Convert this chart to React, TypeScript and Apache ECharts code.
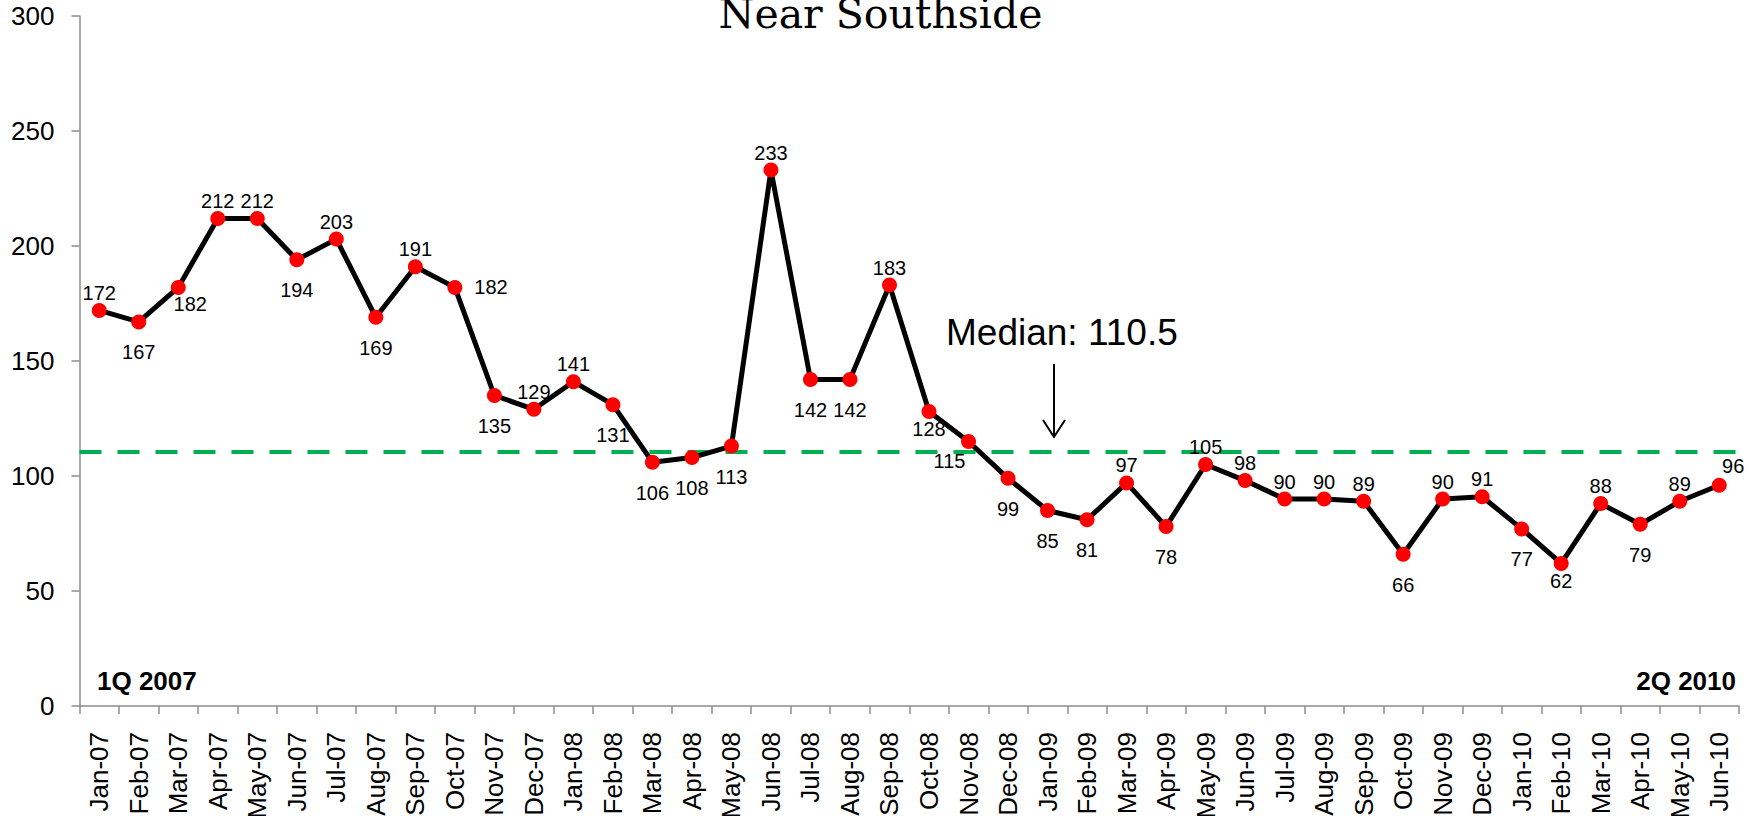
import React, { useEffect, useRef } from "react";
import * as echarts from "echarts";

const months: string[] = [
  "Jan-07", "Feb-07", "Mar-07", "Apr-07", "May-07", "Jun-07", "Jul-07", "Aug-07", "Sep-07", "Oct-07", "Nov-07", "Dec-07",
  "Jan-08", "Feb-08", "Mar-08", "Apr-08", "May-08", "Jun-08", "Jul-08", "Aug-08", "Sep-08", "Oct-08", "Nov-08", "Dec-08",
  "Jan-09", "Feb-09", "Mar-09", "Apr-09", "May-09", "Jun-09", "Jul-09", "Aug-09", "Sep-09", "Oct-09", "Nov-09", "Dec-09",
  "Jan-10", "Feb-10", "Mar-10", "Apr-10", "May-10", "Jun-10",
];

const counts: number[] = [
  172, 167, 182, 212, 212, 194, 203, 169, 191, 182, 135, 129,
  141, 131, 106, 108, 113, 233, 142, 142, 183, 128, 115, 99,
  85, 81, 97, 78, 105, 98, 90, 90, 89, 66, 90, 91,
  77, 62, 88, 79, 89, 96,
];

const median = 110.5;
const yTicks = { min: 0, max: 300, interval: 50 };

const titleText = "Near Southside";
const medianText = "Median: 110.5";
const startText = "1Q 2007";
const endText = "2Q 2010";

// label placement style per point: t = above, b = below, r = right, others custom
const placement: string[] = [
  "t", "b", "br", "t", "t", "b", "t", "b", "t", "r", "b", "t",
  "t", "b", "b", "b", "b", "t", "b", "b", "t", "bc", "bl", "b",
  "b", "b", "t", "b", "t", "t", "t", "t", "t", "b", "t", "t",
  "b", "bc", "t", "b", "t", "tr",
];

const FONT = "'Liberation Sans', Arial, sans-serif";

function labelFor(p: string): any {
  const base = { show: true, color: "#000", fontSize: 20, fontFamily: FONT };
  switch (p) {
    case "t":
      return { ...base, position: "top", distance: 0 };
    case "b":
      return { ...base, position: "bottom", distance: 13 };
    case "br":
      return { ...base, position: "bottom", distance: 13, offset: [12, -14] };
    case "bc":
      return { ...base, position: "bottom", distance: 13, offset: [0, -13] };
    case "bl":
      return { ...base, position: "bottom", distance: 13, offset: [-19, -11] };
    case "r":
      return { ...base, position: "right", distance: 12 };
    case "tr":
      return { ...base, position: "top", distance: 0, offset: [14, -2] };
    default:
      return base;
  }
}

export default function App() {
  const ref = useRef<HTMLDivElement>(null);

  useEffect(() => {
    if (!ref.current) return;
    const chart = echarts.init(ref.current, undefined, { renderer: "svg" });
    chart.setOption({
      animation: false,
      backgroundColor: "#fff",
      grid: {
        left: 79.5,
        right: 22,
        top: 16,
        bottom: 110,
        containLabel: false,
        outerBoundsMode: "none",
      },
      xAxis: {
        type: "category",
        data: months,
        boundaryGap: true,
        axisLine: { lineStyle: { color: "#8c8c8c", width: 1.5 } },
        axisTick: { show: true, length: 8, interval: 0, alignWithLabel: false, lineStyle: { color: "#8c8c8c", width: 1.5 } },
        axisLabel: { interval: 0, rotate: 90, margin: 26, color: "#000", fontSize: 26, fontFamily: FONT },
        splitLine: { show: false },
      },
      yAxis: {
        type: "value",
        min: yTicks.min,
        max: yTicks.max,
        interval: yTicks.interval,
        axisLine: { show: true, lineStyle: { color: "#8c8c8c", width: 1.5 } },
        axisTick: { show: true, length: 8, lineStyle: { color: "#8c8c8c", width: 1.5 } },
        axisLabel: { margin: 25, color: "#000", fontSize: 26, fontFamily: FONT },
        splitLine: { show: false },
      },
      series: [
        {
          type: "line",
          data: counts.map((v, i) => ({ value: v, label: labelFor(placement[i]) })),
          symbol: "circle",
          symbolSize: 15,
          lineStyle: { color: "#000", width: 5 },
          itemStyle: { color: "#ff0000", borderWidth: 0 },
          z: 3,
          markLine: {
            silent: true,
            symbol: ["none", "none"],
            label: { show: false },
            lineStyle: { color: "#00b050", width: 4, type: [22, 16] },
            data: [{ yAxis: median }],
            z: 2,
          },
        },
      ],
      graphic: [
        {
          type: "text",
          style: {
            x: 880.5,
            y: 14,
            text: titleText,
            fill: "#000",
            font: "41px 'DejaVu Serif', 'Liberation Serif', serif",
            align: "center",
            verticalAlign: "middle",
          },
        },
        {
          type: "text",
          style: {
            x: 946,
            y: 332,
            text: medianText,
            fill: "#000",
            font: `37px ${FONT}`,
            align: "left",
            verticalAlign: "middle",
          },
        },
        {
          type: "line",
          shape: { x1: 1054, y1: 364, x2: 1054, y2: 436 },
          style: { stroke: "#000", lineWidth: 2 },
        },
        {
          type: "polyline",
          shape: { points: [[1043, 420], [1054, 437], [1065, 420]] },
          style: { stroke: "#000", lineWidth: 2, fill: null },
        },
        {
          type: "text",
          style: {
            x: 97,
            y: 681,
            text: startText,
            fill: "#000",
            font: `bold 26px ${FONT}`,
            align: "left",
            verticalAlign: "middle",
          },
        },
        {
          type: "text",
          style: {
            x: 1736,
            y: 681,
            text: endText,
            fill: "#000",
            font: `bold 26px ${FONT}`,
            align: "right",
            verticalAlign: "middle",
          },
        },
      ],
    });
    return () => chart.dispose();
  }, []);

  return (
    <div
      ref={ref}
      style={{ position: "fixed", left: 0, top: 0, width: 1761, height: 816, background: "#fff" }}
    />
  );
}
